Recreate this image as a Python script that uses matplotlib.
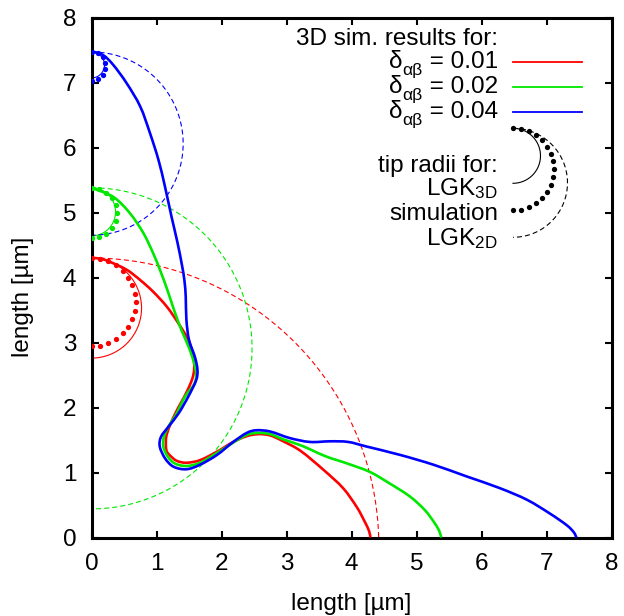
import numpy as np
import matplotlib
matplotlib.use("Agg")
import matplotlib.pyplot as plt
from matplotlib.path import Path
from matplotlib.patches import PathPatch

plt.rcParams['font.family'] = ['Liberation Sans', 'DejaVu Sans']
plt.rcParams['mathtext.fontset'] = 'custom'
plt.rcParams['mathtext.rm'] = 'Liberation Sans'
plt.rcParams['mathtext.it'] = 'Liberation Sans'
plt.rcParams['mathtext.bf'] = 'Liberation Sans:bold'

# ---- simulated dendrite contours (x, y in micrometres) ----
red_x = [0.00, 0.14, 0.285, 0.54, 0.75, 0.95, 1.16, 1.34, 1.49, 1.565, 1.58, 1.55,
         1.47, 1.38, 1.29, 1.20, 1.15, 1.145, 1.16, 1.21, 1.31, 1.46, 1.67, 1.93,
         2.18, 2.39, 2.57, 2.75, 2.95, 3.22, 3.57, 3.87, 4.08, 4.20, 4.27, 4.29]
red_y = [4.30, 4.29, 4.24, 4.12, 3.96, 3.78, 3.55, 3.29, 3.04, 2.80, 2.60, 2.44,
         2.25, 2.08, 1.91, 1.71, 1.55, 1.40, 1.32, 1.26, 1.18, 1.15, 1.19, 1.32,
         1.47, 1.56, 1.59, 1.57, 1.48, 1.33, 1.04, 0.76, 0.47, 0.25, 0.10, 0.00]

green_x = [0.00, 0.335, 0.59, 0.80, 0.95, 1.06, 1.17, 1.27, 1.38, 1.50, 1.58, 1.61,
           1.58, 1.44, 1.31, 1.18, 1.115, 1.105, 1.17, 1.28, 1.46, 1.67, 1.93, 2.18,
           2.39, 2.57, 2.75, 2.95, 3.24, 3.60, 3.93, 4.28, 4.59, 4.90, 5.13, 5.28,
           5.35, 5.38]
green_y = [5.38, 5.24, 4.99, 4.68, 4.37, 4.10, 3.80, 3.50, 3.20, 2.92, 2.68, 2.50,
           2.36, 2.17, 1.91, 1.70, 1.55, 1.40, 1.25, 1.14, 1.10, 1.15, 1.30, 1.46,
           1.58, 1.61, 1.59, 1.51, 1.41, 1.25, 1.14, 1.01, 0.83, 0.63, 0.42, 0.22,
           0.10, 0.00]

blue_x = [0.00, 0.18, 0.335, 0.54, 0.75, 0.90, 1.03, 1.13, 1.23, 1.32, 1.39, 1.43,
          1.45, 1.46, 1.50, 1.59, 1.63, 1.61, 1.49, 1.34, 1.18, 1.07, 1.05, 1.13,
          1.26, 1.46, 1.67, 1.93, 2.18, 2.39, 2.54, 2.75, 3.05, 3.36, 3.67, 3.95,
          4.23, 4.75, 5.26, 5.77, 6.28, 6.70, 7.05, 7.31, 7.42, 7.46]
blue_y = [7.48, 7.42, 7.27, 6.99, 6.63, 6.22, 5.81, 5.40, 4.94, 4.55, 4.20, 3.95,
          3.70, 3.35, 3.04, 2.78, 2.58, 2.42, 2.17, 1.91, 1.70, 1.55, 1.40, 1.22,
          1.09, 1.05, 1.12, 1.27, 1.47, 1.61, 1.65, 1.63, 1.53, 1.47, 1.48, 1.47,
          1.40, 1.27, 1.12, 0.94, 0.76, 0.58, 0.37, 0.19, 0.08, 0.00]

# ---- tip positions and tip radii (micrometres) ----
deltas = ['0.01', '0.02', '0.04']
tip_y = [4.30, 5.38, 7.47]
r_simulation = [0.68, 0.39, 0.22]
r_lgk3d = [0.77, 0.37, 0.20]
r_lgk2d = [4.42, 2.47, 1.41]
dot_counts = [17, 11, 8]

colors = ['#ff0000', '#00e800', '#0000ff']
curves = [(red_x, red_y), (green_x, green_y), (blue_x, blue_y)]

W, H = 624, 616
fig = plt.figure(figsize=(W / 100, H / 100), dpi=100)
x0, x1, y0, y1 = 91.5, 611.5, 17.5, 537.5
ax = fig.add_axes([x0 / W, 1 - y1 / H, (x1 - x0) / W, (y1 - y0) / H])

fs = 17.5
dash = (0, (4.5, 2.8))


def smooth_path(xs, ys):
    """Cubic Bezier path passing through every point (Catmull-Rom tangents)."""
    p = np.column_stack([xs, ys]).astype(float)
    ext = np.vstack([p[0], p, p[-1]])
    verts = [p[0]]
    codes = [Path.MOVETO]
    for k in range(len(p) - 1):
        a, b, c, d = ext[k], ext[k + 1], ext[k + 2], ext[k + 3]
        verts += [b + (c - a) / 6.0, c - (d - b) / 6.0, c]
        codes += [Path.CURVE4] * 3
    return Path(verts, codes)


def tip_arc(tip, r, n=200):
    th = np.linspace(np.pi / 2, -np.pi / 2, n)
    return r * np.cos(th), (tip - r) + r * np.sin(th)


for i in range(3):
    c = colors[i]
    ax.plot(*tip_arc(tip_y[i], r_lgk2d[i]), color=c, lw=0.8, ls=dash, zorder=2)
    ax.plot(*tip_arc(tip_y[i], r_lgk3d[i]), color=c, lw=0.8, zorder=2)

for (cx, cy), c in zip(curves, colors):
    ax.add_patch(PathPatch(smooth_path(cx, cy), fill=False, edgecolor=c,
                           lw=1.9, joinstyle='round', capstyle='butt', zorder=3))

for i in range(3):
    dx, dy = tip_arc(tip_y[i], r_simulation[i], dot_counts[i])
    ax.plot(dx, dy, ls='none', marker='o', ms=3.8, mec='none',
            color=colors[i], zorder=4)

ax.set_xlim(0, 8)
ax.set_ylim(0, 8)
ax.set_xticks(range(9))
ax.set_yticks(range(9))
ax.tick_params(direction='in', length=5, width=1.5, top=True, right=True,
               labelsize=fs, pad=11)
for s in ax.spines.values():
    s.set_linewidth(2.2)

ax.set_xlabel('length [µm]', fontsize=fs)
ax.set_ylabel('length [µm]', fontsize=fs)
ax.xaxis.label.set_va('baseline')
ax.xaxis.set_label_coords(0.5, (y1 - 610) / (y1 - y0))
ax.yaxis.label.set_va('center')
ax.yaxis.set_label_coords((23 - x0) / (x1 - x0), (y1 - 297) / (y1 - y0))

# ---- key, drawn in pixel coordinates on top of the plot ----
ov = fig.add_axes([0, 0, 1, 1], zorder=10)
ov.set_xlim(0, W)
ov.set_ylim(H, 0)
ov.axis('off')
ov.patch.set_alpha(0)
renderer = fig.canvas.get_renderer()

tx = 498
ov.text(tx, 45, '3D sim. results for:', ha='right', va='baseline', fontsize=fs)
for i, (d, c) in enumerate(zip(deltas, colors)):
    yb = 68.3 + 25 * i
    t_val = ov.text(tx, yb, ' = ' + d, ha='right', va='baseline', fontsize=fs)
    left = tx - t_val.get_window_extent(renderer).width
    t_sub = ov.text(left, yb + 6.5, 'αβ', ha='right', va='baseline',
                    fontsize=fs * 0.72)
    left -= t_sub.get_window_extent(renderer).width
    ov.text(left, yb, 'δ', ha='right', va='baseline', fontsize=fs)
    ov.plot([513, 582], [yb - 6.8, yb - 6.8], color=c, lw=1.3)

ov.text(tx, 171.7, 'tip radii for:', ha='right', va='baseline', fontsize=fs)
ov.text(tx, 195, r'LGK$_{\mathrm{3D}}$', ha='right', va='baseline', fontsize=fs)
ov.text(tx, 220, 'simulation', ha='right', va='baseline', fontsize=fs)
ov.text(tx, 245, r'LGK$_{\mathrm{2D}}$', ha='right', va='baseline', fontsize=fs)

top_px = 128.3
for r, kind in [(27.5, 'solid'), (41, 'dots'), (54.5, 'dashed')]:
    n = 17 if kind == 'dots' else 200
    th = np.linspace(np.pi / 2, -np.pi / 2, n)
    px = 513 + r * np.cos(th)
    py = top_px + r - r * np.sin(th)
    if kind == 'solid':
        ov.plot(px, py, color='black', lw=0.8)
    elif kind == 'dashed':
        ov.plot(px, py, color='black', lw=0.8, ls=dash)
    else:
        ov.plot(px, py, ls='none', marker='o', ms=3.8, mec='none', color='black')

fig.savefig('out.png', dpi=100)
